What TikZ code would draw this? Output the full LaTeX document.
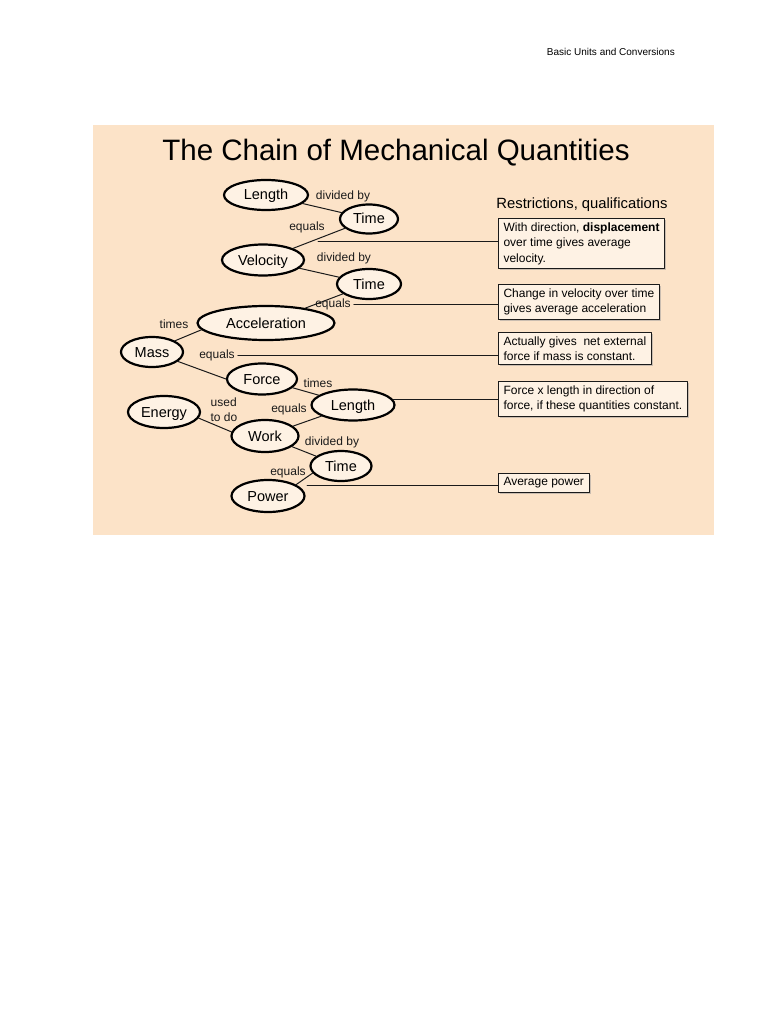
\documentclass[tikz,border=0pt]{standalone}
\usepackage{fontspec}
\setmainfont{Liberation Sans}
\usetikzlibrary{shapes.geometric,shadows}
\definecolor{peach}{HTML}{FCE3C8}
\definecolor{cream}{HTML}{FEF2E4}
\definecolor{ink}{HTML}{1A1A1A}
\tikzset{
    every picture/.style={line cap=round,line join=round},
    qty/.style={draw=black,ellipse,fill=cream,line width=2.2pt,inner sep=0pt,
      text height=10.5pt,text depth=0.5pt,font=\fontsize{14.5}{17}\selectfont},
    relword/.style={inner sep=0pt,text=ink,font=\fontsize{12}{15}\selectfont,align=left},
    link/.style={draw=ink,line width=1pt},
    notebox/.style={draw=ink,fill=cream,line width=1pt,anchor=north west,
      align=left,inner xsep=5pt,inner ysep=4pt,
      font=\fontsize{12}{15.5}\selectfont,
      drop shadow={shadow xshift=1.5pt,shadow yshift=-1.5pt,fill=gray!80}}
}
\begin{document}
\begin{tikzpicture}[x=1pt,y=-1pt]
  \useasboundingbox (0,0) rectangle (768,1024);
  \fill[white] (0,0) rectangle (768,1024);
  \node[anchor=east,inner sep=0pt,font=\fontsize{10}{12}\selectfont] (header) at (675,52)
    {Basic Units and Conversions};
  \fill[peach] (93,125) rectangle (714,535);
  \node[font=\fontsize{29.5}{32}\selectfont] (title) at (396,153)
    {The Chain of Mechanical Quantities};
  \node[font=\fontsize{14.8}{17}\selectfont] (restr) at (582,205)
    {Restrictions, qualifications};
  % quantities
  \node[qty,minimum width=84pt,minimum height=30pt] (len1) at (266,195) {Length};
  \node[qty,minimum width=58pt,minimum height=29pt] (tim1) at (369,219) {Time};
  \node[qty,minimum width=82pt,minimum height=31pt] (vel) at (263,260) {Velocity};
  \node[qty,minimum width=64pt,minimum height=30pt] (tim2) at (369,284) {Time};
  \node[qty,minimum width=137pt,minimum height=34pt] (acc) at (266,323) {Acceleration};
  \node[qty,minimum width=62pt,minimum height=30pt] (mass) at (152,352) {Mass};
  \node[qty,minimum width=70pt,minimum height=31pt] (force) at (262,379) {Force};
  \node[qty,minimum width=83pt,minimum height=31pt] (len2) at (353,405) {Length};
  \node[qty,minimum width=72pt,minimum height=32pt] (energy) at (164,412) {Energy};
  \node[qty,minimum width=67pt,minimum height=32pt] (work) at (265,436) {Work};
  \node[qty,minimum width=61pt,minimum height=30pt] (tim3) at (341,466) {Time};
  \node[qty,minimum width=73pt,minimum height=32pt] (pow) at (268,496) {Power};
  % relation words
  \node[relword] (div1) at (343,196) {divided by};
  \node[relword] (eq1) at (307,227) {equals};
  \node[relword] (div2) at (344,258) {divided by};
  \node[relword] (eq2) at (333,304) {equals};
  \node[relword] (times1) at (174,324) {times};
  \node[relword] (eq3) at (217,355) {equals};
  \node[relword] (times2) at (318,383) {times};
  \node[relword] (eq4) at (289,409) {equals};
  \node[relword] (usedto) at (224,410) {used\\to do};
  \node[relword] (div3) at (332,442) {divided by};
  \node[relword] (eq5) at (288,472) {equals};
  % chain
  \draw[link] (len1) -- (tim1);
  \draw[link] (tim1) -- (vel);
  \draw[link] (vel) -- (tim2);
  \draw[link] (tim2) -- (acc);
  \draw[link] (acc.186) -- (mass.26);
  \draw[link] (mass.340) -- (force.180);
  \draw[link] (force) -- (len2);
  \draw[link] (len2) -- (work);
  \draw[link] (energy.350) -- (work.173);
  \draw[link] (work) -- (tim3);
  \draw[link] (tim3.194) -- (pow.22);
  % restrictions
  \node[notebox] (note1) at (498,218)
    {With direction, \textbf{displacement}\\over time gives average\\velocity.};
  \node[notebox] (note2) at (498,284)
    {Change in velocity over time\\gives average acceleration};
  \node[notebox] (note3) at (498,332)
    {Actually gives\ \ net external\\force if mass is constant.};
  \node[notebox] (note4) at (498,381)
    {Force x length in direction of\\force, if these quantities constant.};
  \node[notebox] (note5) at (498,473) {Average power};
  \coordinate (tap1) at (318,241);
  \coordinate (tap5) at (307,485);
  \draw[link] (tap1) -- (tap1 -| note1.west);
  \draw[link] (eq2.east) ++(3,0) -- (eq2.east -| note2.west);
  \draw[link] (eq3.east) ++(3,0) -- (eq3.east -| note3.west);
  \draw[link] (len2.8) -- (len2.8 -| note4.west);
  \draw[link] (tap5) -- (tap5 -| note5.west);
\end{tikzpicture}
\end{document}
